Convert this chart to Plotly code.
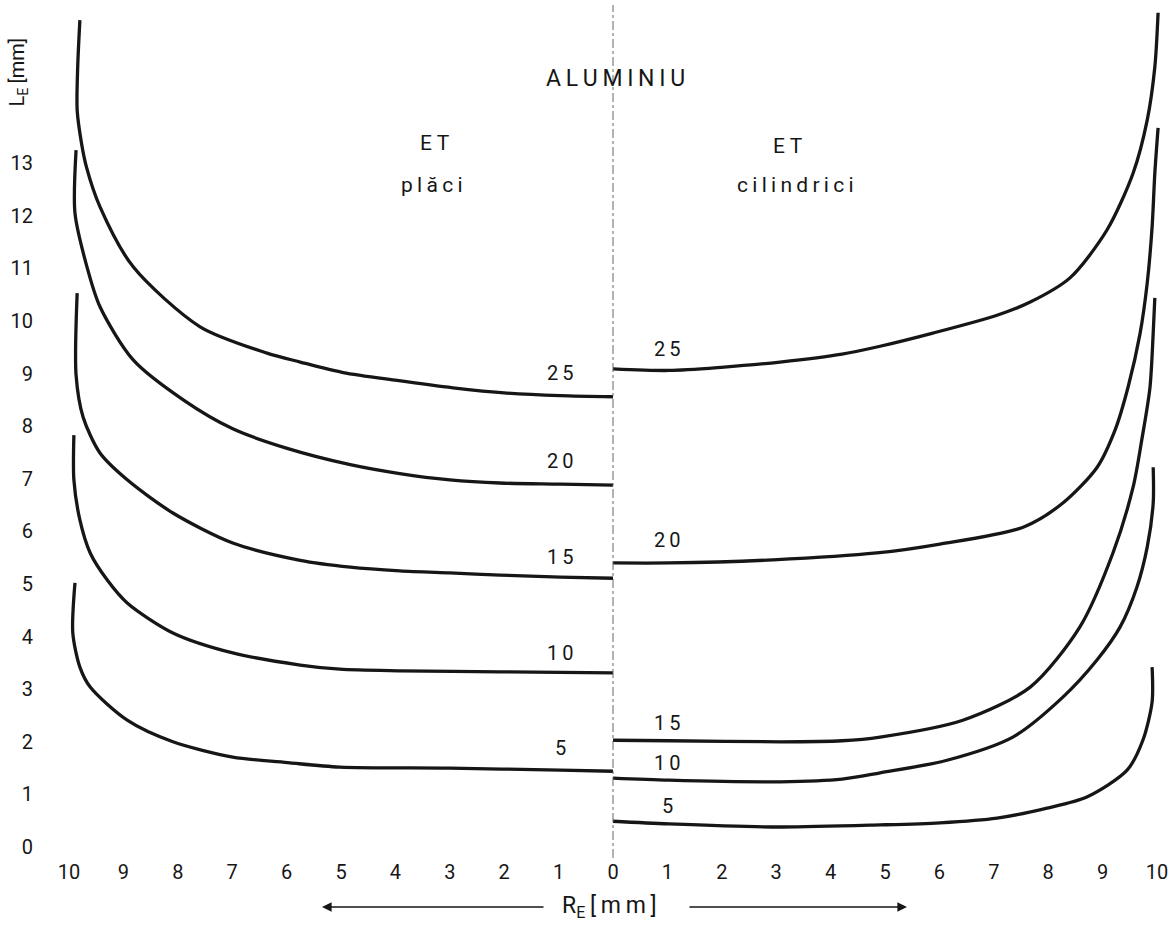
import plotly.graph_objects as go

# ---------------- data (R_E in mm from the axis, L_E in mm) ----------------
# ET placi (left half) - distance R_E from centre, value L_E
PLACI_R_25 = [9.80, 9.84, 9.85, 9.77, 9.68, 9.43, 8.82, 7.59, 6.36, 5.75, 4.96, 3.97, 2.94, 1.95, 0.97, 0.0]
PLACI_L_25 = [15.72, 14.83, 14.01, 13.38, 12.93, 12.17, 11.03, 9.89, 9.39, 9.22, 9.02, 8.87, 8.73, 8.63, 8.58, 8.56]

PLACI_R_20 = [9.87, 9.89, 9.67, 9.43, 8.82, 7.90, 6.99, 5.99, 4.83, 3.92, 3.00, 2.08, 0.97, 0.0]
PLACI_L_20 = [13.25, 12.05, 11.03, 10.27, 9.26, 8.50, 7.95, 7.58, 7.27, 7.10, 6.98, 6.92, 6.90, 6.88]

PLACI_R_15 = [9.85, 9.87, 9.74, 9.43, 8.93, 8.09, 6.99, 5.75, 4.83, 3.92, 3.00, 2.08, 0.97, 0.0]
PLACI_L_15 = [10.53, 8.97, 8.17, 7.49, 6.98, 6.35, 5.78, 5.45, 5.32, 5.25, 5.21, 5.17, 5.13, 5.11]

PLACI_R_10 = [9.91, 9.91, 9.80, 9.61, 9.30, 8.93, 8.09, 6.99, 5.75, 5.02, 3.92, 2.08, 0.0]
PLACI_L_10 = [7.83, 6.98, 6.22, 5.59, 5.08, 4.64, 4.07, 3.69, 3.46, 3.38, 3.35, 3.33, 3.31]

PLACI_R_5 = [9.89, 9.93, 9.80, 9.61, 8.93, 8.09, 6.99, 5.94, 5.02, 3.00, 0.97, 0.0]
PLACI_L_5 = [5.02, 4.07, 3.42, 3.04, 2.41, 2.00, 1.71, 1.60, 1.52, 1.50, 1.46, 1.44]

# ET cilindrici (right half)
CIL_R_25 = [0.0, 1.03, 1.99, 3.07, 4.21, 4.91, 5.88, 7.06, 7.67, 8.40, 9.08, 9.56, 9.82, 9.96, 10.02]
CIL_L_25 = [9.09, 9.06, 9.12, 9.22, 9.37, 9.52, 9.77, 10.11, 10.36, 10.82, 11.73, 12.81, 13.82, 14.83, 15.86]

CIL_R_20 = [0.0, 1.03, 2.94, 4.85, 6.01, 7.54, 8.27, 8.90, 9.23, 9.47, 9.69, 9.82, 9.91, 9.96, 10.02]
CIL_L_20 = [5.40, 5.40, 5.46, 5.59, 5.76, 6.08, 6.54, 7.22, 7.93, 8.75, 9.77, 10.72, 11.79, 12.81, 13.67]

CIL_R_15 = [0.0, 1.03, 3.07, 4.21, 4.91, 6.43, 7.67, 8.58, 9.19, 9.56, 9.72, 9.87, 9.93, 9.96]
CIL_L_15 = [2.03, 2.02, 2.00, 2.02, 2.09, 2.41, 3.04, 4.18, 5.59, 6.84, 7.74, 8.73, 9.77, 10.44]

CIL_R_10 = [0.0, 1.03, 3.07, 4.21, 4.91, 6.14, 7.35, 8.27, 8.90, 9.32, 9.63, 9.82, 9.93, 9.93]
CIL_L_10 = [1.31, 1.27, 1.24, 1.29, 1.41, 1.65, 2.09, 2.85, 3.56, 4.18, 4.94, 5.70, 6.54, 7.22]

CIL_R_5 = [0.0, 1.03, 3.07, 4.91, 6.01, 7.06, 7.98, 8.71, 9.45, 9.74, 9.91, 9.91]
CIL_L_5 = [0.49, 0.44, 0.38, 0.42, 0.46, 0.55, 0.74, 0.95, 1.46, 2.03, 2.76, 3.42]

CURVE_NAMES = ["25", "20", "15", "10", "5"]

X_TICK_VALS = list(range(-10, 11))
X_TICK_TEXT = ["10", "9", "8", "7", "6", "5", "4", "3", "2", "1", "0",
               "1", "2", "3", "4", "5", "6", "7", "8", "9", "10"]
Y_TICK_VALS = list(range(0, 14))
Y_TICK_TEXT = [str(v) for v in Y_TICK_VALS]

# ---------------- figure ----------------
INK = "#161616"
FONT = "Roboto, 'DejaVu Sans', sans-serif"
fig = go.Figure()

placi = [(PLACI_R_25, PLACI_L_25), (PLACI_R_20, PLACI_L_20), (PLACI_R_15, PLACI_L_15),
         (PLACI_R_10, PLACI_L_10), (PLACI_R_5, PLACI_L_5)]
cil = [(CIL_R_25, CIL_L_25), (CIL_R_20, CIL_L_20), (CIL_R_15, CIL_L_15),
       (CIL_R_10, CIL_L_10), (CIL_R_5, CIL_L_5)]

for name, (r, l) in zip(CURVE_NAMES, placi):
    fig.add_trace(go.Scatter(x=[-v for v in r], y=l, mode="lines", name="ET plăci " + name,
                             line=dict(color=INK, width=3.3, shape="spline", smoothing=0.8)))
for name, (r, l) in zip(CURVE_NAMES, cil):
    fig.add_trace(go.Scatter(x=r, y=l, mode="lines", name="ET cilindrici " + name,
                             line=dict(color=INK, width=3.3, shape="spline", smoothing=0.8)))

fig.add_vline(x=0, line=dict(color="#666666", width=1, dash="dashdot"))

def spaced(s):
    return "\u2009".join(s)

ann = []
# curve labels
left_label_y = [9.01, 7.34, 5.51, 3.69, 1.88]
right_label_y = [9.47, 5.84, 2.36, 1.60, 0.78]
for name, yl, yr in zip(CURVE_NAMES, left_label_y, right_label_y):
    ann.append(dict(x=-0.97, y=yl, xref="x", yref="y", text=spaced(name), showarrow=False,
                    font=dict(size=20, color=INK, family=FONT)))
    ann.append(dict(x=1.01, y=yr, xref="x", yref="y", text=spaced(name), showarrow=False,
                    font=dict(size=20, color=INK, family=FONT)))

ann += [
    dict(x=0.04, y=14.62, xref="x", yref="y", text=spaced("ALUMINIU"), showarrow=False,
         font=dict(size=23, color=INK, family=FONT)),
    dict(x=-3.27, y=13.38, xref="x", yref="y", text="E T", showarrow=False,
         font=dict(size=21, color=INK, family=FONT)),
    dict(x=-3.33, y=12.59, xref="x", yref="y", text=spaced("plăci"), showarrow=False,
         font=dict(size=21, color=INK, family=FONT)),
    dict(x=3.22, y=13.33, xref="x", yref="y", text="E T", showarrow=False,
         font=dict(size=21, color=INK, family=FONT)),
    dict(x=3.36, y=12.59, xref="x", yref="y", text=spaced("cilindrici"), showarrow=False,
         font=dict(size=21, color=INK, family=FONT)),
    dict(x=-0.0194, y=0.921, xref="paper", yref="paper", xanchor="center", yanchor="middle",
         text="L<sub>E</sub>\u2009[mm]", textangle=-90, showarrow=False,
         font=dict(size=20, color=INK, family=FONT)),
    dict(x=0.503, y=-0.0574, xref="paper", yref="paper", xanchor="center", yanchor="middle",
         text="R<sub>E</sub>\u2009[\u2009m\u2009m\u2009]", showarrow=False,
         font=dict(size=23, color=INK, family=FONT)),
    dict(x=0.2489, y=-0.0574, xref="paper", yref="paper", text="", showarrow=True,
         ax=223, ay=0, arrowhead=2, arrowsize=1.2, arrowwidth=1.6, arrowcolor=INK),
    dict(x=0.7652, y=-0.0574, xref="paper", yref="paper", text="", showarrow=True,
         ax=-219, ay=0, arrowhead=2, arrowsize=1.2, arrowwidth=1.6, arrowcolor=INK),
]

fig.update_layout(
    width=1173, height=926,
    margin=dict(l=40, r=0, t=5, b=68, autoexpand=False),
    plot_bgcolor="white", paper_bgcolor="white",
    showlegend=False,
    font=dict(family=FONT, color=INK, size=20),
    annotations=ann,
)
fig.update_xaxes(range=[-10.533, 10.294], showgrid=False, zeroline=False, showline=False,
                 tickmode="array", tickvals=X_TICK_VALS, ticktext=X_TICK_TEXT, ticks="",
                 tickfont=dict(size=20, color=INK, family=FONT), automargin=False)
fig.update_yaxes(range=[-0.209, 16.008], showgrid=False, zeroline=False, showline=False,
                 tickmode="array", tickvals=Y_TICK_VALS, ticktext=Y_TICK_TEXT, ticks="",
                 ticklabelstandoff=6,
                 tickfont=dict(size=20, color=INK, family=FONT), automargin=False)

fig.write_html("out.html", config={"displayModeBar": False},
               post_script="document.body.style.margin='0px';document.body.style.overflow='hidden';")
